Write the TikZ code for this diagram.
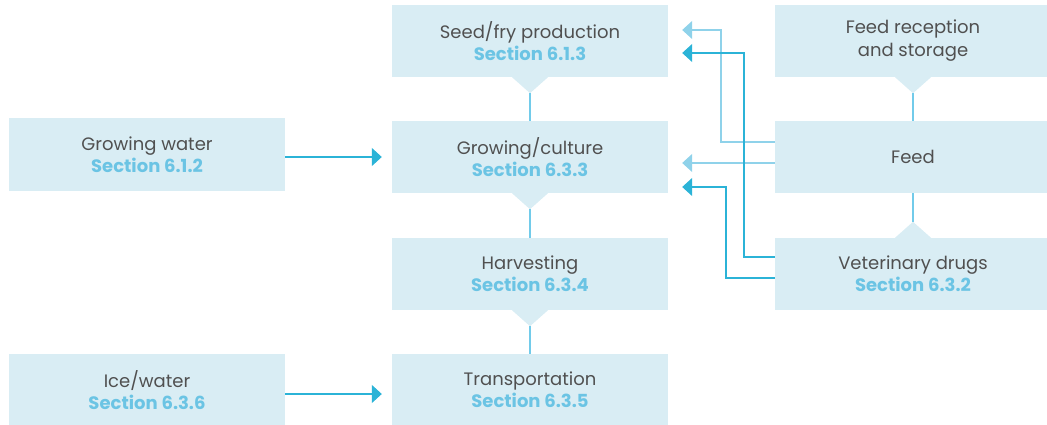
\documentclass[tikz,border=0pt]{standalone}
\usepackage{fontspec}
\setmainfont{Poppins}
\usetikzlibrary{arrows.meta}
\definecolor{boxfill}{HTML}{D9EDF4}
\definecolor{txtgray}{HTML}{505050}
\definecolor{secblue}{HTML}{6BC4E4}
\definecolor{conn}{HTML}{72CBEA}
\definecolor{lightarr}{HTML}{8FD2EA}
\definecolor{darkarr}{HTML}{2BB3D7}
\tikzset{
  procbox/.style={fill=boxfill, minimum width=276pt, minimum height=72pt, inner sep=0pt,
    align=center, text=txtgray, font=\fontsize{18}{23}\selectfont},
  connline/.style={draw=conn, line width=1.2pt},
  lightline/.style={draw=lightarr, line width=1.2pt, -{Triangle[width=18pt,length=10pt]}},
  darkline/.style={draw=darkarr, line width=1.2pt, -{Triangle[width=18pt,length=10pt]}},
}
\newcommand{\sect}[1]{\\[-1pt]{\color{secblue}\bfseries #1}}
\begin{document}
\begin{tikzpicture}[x=1pt,y=-1pt]
\useasboundingbox (0,0) rectangle (1047,425);
% boxes
\node[procbox] (seed) at (530,41) {Seed/fry production\sect{Section 6.1.3}};
\node[procbox] (grow) at (530,157) {Growing/culture\sect{Section 6.3.3}};
\node[procbox] (harv) at (530,274) {Harvesting\sect{Section 6.3.4}};
\node[procbox] (trans) at (530,390) {Transportation\sect{Section 6.3.5}};
\node[procbox] (gwater) at (147,154.5) {Growing water\sect{Section 6.1.2}};
\node[procbox] (ice) at (147,390) {Ice/water\sect{Section 6.3.6}};
\node[procbox] (feedrec) at (913,41) {Feed reception\\and storage};
\node[procbox] (feed) at (913,157) {Feed};
\node[procbox] (vet) at (913,274) {Veterinary drugs\sect{Section 6.3.2}};
% triangles
\foreach \n in {seed,grow,harv,feedrec}{
  \fill[boxfill] ([xshift=-18pt]\n.south) -- ([xshift=18pt]\n.south) -- ([yshift=-16pt]\n.south) -- cycle;
}
\fill[boxfill] ([xshift=-18pt]vet.north) -- ([xshift=18pt]vet.north) -- ([yshift=16pt]vet.north) -- cycle;
% vertical connectors
\draw[connline] ([yshift=-16pt]seed.south) -- (grow.north);
\draw[connline] ([yshift=-16pt]grow.south) -- (harv.north);
\draw[connline] ([yshift=-16pt]harv.south) -- (trans.north);
\draw[connline] ([yshift=-16pt]feedrec.south) -- (feed.north);
\draw[connline] (feed.south) -- ([yshift=16pt]vet.north);
% left arrows
\draw[darkline] (gwater.east |- grow.west) -- ([xshift=-10pt]grow.west);
\draw[darkline] ([yshift=-4pt]ice.east) -- ([xshift=-10pt,yshift=-4pt]trans.west);
% right arrows
\draw[lightline] ([yshift=15pt]feed.west) -| (721,30) -- ([xshift=14pt,yshift=11pt]seed.east);
\draw[lightline] ([yshift=-6pt]feed.west) -- ([xshift=14pt,yshift=-6pt]grow.east);
\draw[darkline] ([yshift=17pt]vet.west) -| (744,53) -- ([xshift=14pt,yshift=-12pt]seed.east);
\draw[darkline] ([yshift=-4pt]vet.west) -| (726,187) -- ([xshift=14pt,yshift=-30pt]grow.east);
\end{tikzpicture}
\end{document}
